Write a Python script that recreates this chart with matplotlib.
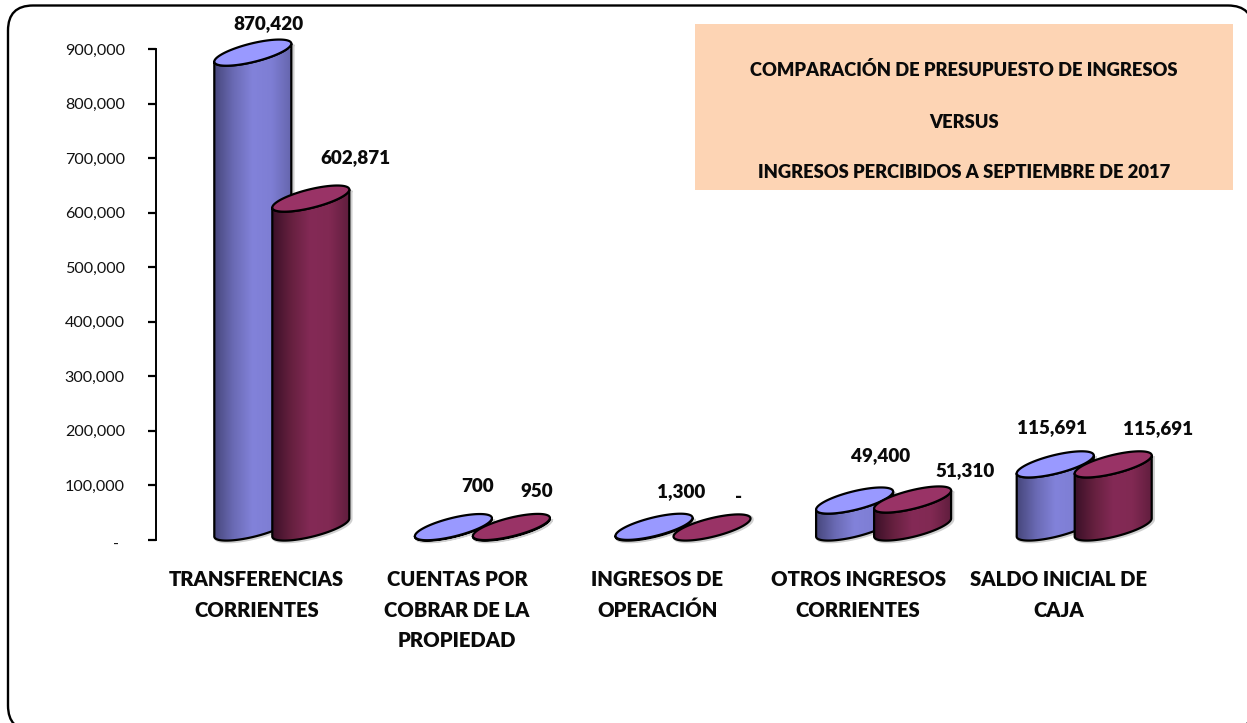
import numpy as np
import matplotlib
matplotlib.use("Agg")
import matplotlib.pyplot as plt
from matplotlib.colors import LinearSegmentedColormap
from matplotlib.patches import FancyBboxPatch, Polygon, Rectangle
from matplotlib.transforms import ScaledTranslation

plt.rcParams['font.family'] = ['Lato', 'DejaVu Sans']

W = 1247
H = 723

categories = ["TRANSFERENCIAS\nCORRIENTES", "CUENTAS POR\nCOBRAR DE LA\nPROPIEDAD",
              "INGRESOS DE\nOPERACIÓN", "OTROS INGRESOS\nCORRIENTES", "SALDO INICIAL DE\nCAJA"]
presupuesto = [870420, 700, 1300, 49400, 115691]
percibidos = [602871, 950, 0, 51310, 115691]
presupuesto_labels = ["870,420", "700", "1,300", "49,400", "115,691"]
percibidos_labels = ["602,871", "950", "-", "51,310", "115,691"]
yticks = [0, 100000, 200000, 300000, 400000, 500000, 600000, 700000, 800000, 900000]
ytick_labels = ["- \u2009", "100,000", "200,000", "300,000", "400,000", "500,000",
                "600,000", "700,000", "800,000", "900,000"]
title_lines = ["COMPARACIÓN DE PRESUPUESTO DE INGRESOS", "VERSUS",
               "INGRESOS PERCIBIDOS A SEPTIEMBRE DE 2017"]

# label centres relative to the cylinder top, in pixels (dx, dy up)
offs_blue = [(15.5, 29), (24, 41), (27, 35), (26, 45), (-3, 37)]
offs_red = [(45, 41), (25, 35), (27, 30), (52, 29), (45, 36)]

blue_cmap = LinearSegmentedColormap.from_list("b", ["#47477c", "#6a6ab4", "#8282da", "#7e7ed4", "#6666ae"])
red_cmap = LinearSegmentedColormap.from_list("r", ["#3b1028", "#66203f", "#842a56", "#812953", "#611e3e"])

fig = plt.figure(figsize=(W / 100, H / 100), dpi=100)
bg = fig.add_axes([0, 0, 1, 1])
bg.set_xlim(0, W)
bg.set_ylim(H, 0)
bg.axis("off")

# outer frame, runs off the right and bottom of the picture
bg.add_patch(FancyBboxPatch((8 + 25, 5.5 + 25), 1245 - 50, 725 - 50,
                            boxstyle="round,pad=25,rounding_size=25",
                            fc="white", ec="black", lw=1.7))
bg.add_patch(Rectangle((695, 24), 538, 166, fc="#fdd4b4", ec="none"))
for line, y in zip(title_lines, [70, 122, 173]):
    bg.text(964, y, line, fontsize=13.2, fontweight="heavy", ha="center", va="center", color="#0a0a0a")

AX_L, AX_R, AX_T, AX_B = 156, 1159, 49, 540
ax = fig.add_axes([AX_L / W, 1 - AX_B / H, (AX_R - AX_L) / W, (AX_B - AX_T) / H])
ax.patch.set_alpha(0)
ax.set_xlim(0, 5)
ax.set_ylim(0, 900000)
px_x = 5 / (AX_R - AX_L)
px_y = 900000 / (AX_B - AX_T)

for s in ["top", "right", "bottom"]:
    ax.spines[s].set_visible(False)
ax.spines["left"].set_linewidth(1.4)
ax.set_yticks(yticks)
ax.set_yticklabels(ytick_labels, fontsize=11.6, color="#111111")
ax.tick_params(axis="y", length=6, width=1.6, pad=16.5)
# the dash of the zero label sits a little lower than the tick
zero_lab = ax.get_yticklabels()[0]
zero_lab.set_transform(zero_lab.get_transform() + ScaledTranslation(0, -1.5 / 72, fig.dpi_scale_trans))
ax.set_xticks([])

RX = 38.5      # half width of a cylinder, px
SKEW = 9.0     # rise of the ellipse from left to right, px
RY = 9.5
BASE = 12.5    # centre of the base ellipse above the zero line, px
t = np.linspace(0, 2 * np.pi, 121)


def ellipse(cx, val):
    x = cx + RX * px_x * np.cos(t)
    y = val + (BASE + SKEW * np.cos(t) + RY * np.sin(t)) * px_y
    return np.column_stack([x, y])


def cylinder(cx, val, cmap, top_color):
    top = ellipse(cx, val)
    base = ellipse(cx, 0)
    if val > 0:
        # side of the cylinder = lower half of the base plus lower half of the top
        idx = np.arange(60, 121)
        body = np.vstack([base[idx], top[idx][::-1]])
        # soft shadow
        ax.add_patch(Polygon(body + [1.5 * px_x, -1 * px_y], closed=True, fc="none",
                             ec="#d0d0d0", lw=2.5, clip_on=False, zorder=2))
        im = ax.imshow(np.linspace(0, 1, 128).reshape(1, -1), cmap=cmap, aspect="auto",
                       extent=[cx - RX * px_x, cx + RX * px_x, 0, val + 40 * px_y],
                       zorder=2, clip_on=True)
        poly = Polygon(body, closed=True, fc="none", ec="black", lw=1.6, clip_on=False, zorder=2,
                       joinstyle="round")
        ax.add_patch(poly)
        im.set_clip_path(poly)
    else:
        ax.add_patch(Polygon(top + [1.5 * px_x, -1 * px_y], closed=True, fc="none",
                             ec="#d0d0d0", lw=2.5, clip_on=False, zorder=2))
    ax.add_patch(Polygon(top, closed=True, fc=top_color, ec="black", lw=1.6, clip_on=False, zorder=2))


for i in range(len(categories)):
    cx_blue = i + 0.5 - 3.5 * px_x
    cx_red = i + 0.5 + 54.5 * px_x
    cylinder(cx_blue, presupuesto[i], blue_cmap, "#9999ff")
    cylinder(cx_red, percibidos[i], red_cmap, "#993366")
    ax.text(cx_blue + offs_blue[i][0] * px_x, presupuesto[i] + (BASE + offs_blue[i][1]) * px_y,
            presupuesto_labels[i], fontsize=13.6, fontweight="heavy", ha="center", va="center",
            color="#0a0a0a", clip_on=False, zorder=3)
    ax.text(cx_red + offs_red[i][0] * px_x, percibidos[i] + (BASE + offs_red[i][1]) * px_y,
            percibidos_labels[i], fontsize=13.6, fontweight="heavy", ha="center", va="center",
            color="#0a0a0a", clip_on=False, zorder=3)
    ax.text(i + 0.5, -30 * px_y, categories[i], fontsize=14.6, fontweight="heavy", ha="center", va="top",
            linespacing=1.72, color="#0a0a0a", clip_on=False, zorder=3)

ax.set_xlim(0, 5)
ax.set_ylim(0, 900000)

fig.savefig("out.png", dpi=100)
